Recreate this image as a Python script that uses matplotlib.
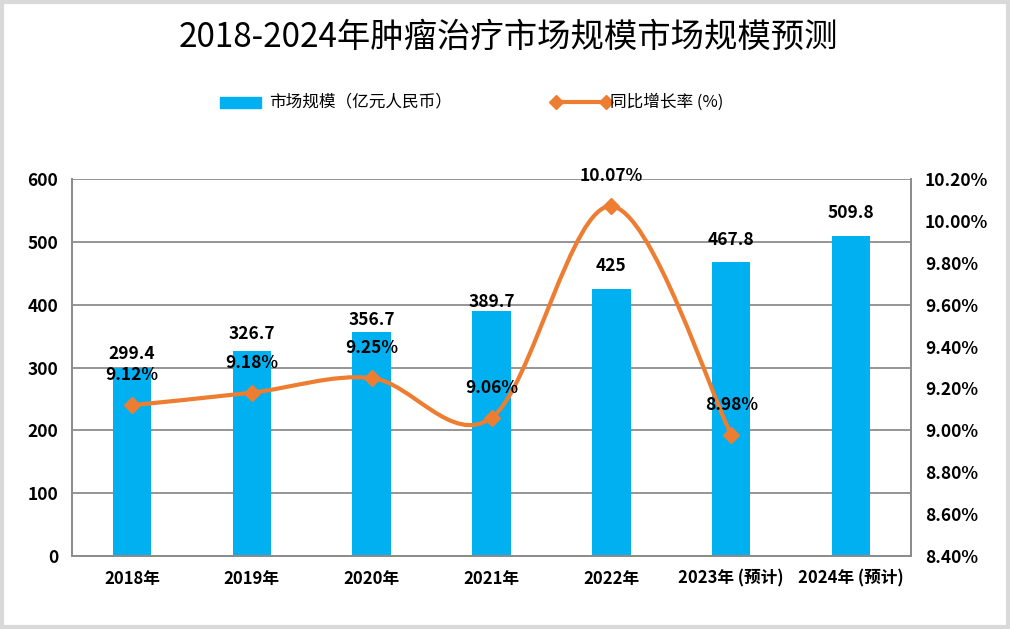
import matplotlib
matplotlib.use('Agg')
import matplotlib.pyplot as plt
from matplotlib.path import Path
from matplotlib.patches import PathPatch, Rectangle
from matplotlib.lines import Line2D
from matplotlib.ticker import FuncFormatter, MultipleLocator

plt.rcParams['font.family'] = ['Noto Sans CJK SC', 'DejaVu Sans']

years = ['2018年', '2019年', '2020年', '2021年', '2022年', '2023年 (预计)', '2024年 (预计)']
market = [299.4, 326.7, 356.7, 389.7, 425, 467.8, 509.8]
growth = [9.12, 9.18, 9.25, 9.06, 10.07, 8.98]   # 2018-2023
growth_labels = ['9.12%', '9.18%', '9.25%', '9.06%', '10.07%', '8.98%']

blue = '#00B0F0'
orange = '#ED7D31'
grid_c = '#8C8C8C'

fig = plt.figure(figsize=(10.1, 6.29), dpi=100)
ax = fig.add_axes([0.0713, 0.116, 0.8307, 0.5994])
ax2 = ax.twinx()

x = list(range(len(years)))
bars = ax.bar(x, market, width=0.32, color=blue, zorder=2)
ax.set_xlim(-0.5, len(years) - 0.5)
ax.set_ylim(0, 600)
ax.yaxis.set_major_locator(MultipleLocator(100))
ax.grid(axis='y', color=grid_c, lw=1.3, zorder=0)
ax.set_axisbelow(True)

# bar value labels (pixel offsets above bar top)
bar_dy = [14, 17, 12, 9, 23, 22, 23]
for xi, v, dy in zip(x, market, bar_dy):
    ax.annotate(f'{v:g}', (xi, v), xytext=(0, dy * 0.72), textcoords='offset points',
                ha='center', va='center', fontsize=12.5, fontweight='bold', zorder=5)

# smoothed growth line (Catmull-Rom -> cubic Bezier)
gx = x[:len(growth)]
pts = list(zip(gx, growth))
verts = [pts[0]]
codes = [Path.MOVETO]
n = len(pts)
for i in range(n - 1):
    p0 = pts[i - 1] if i > 0 else pts[i]
    p1 = pts[i]
    p2 = pts[i + 1]
    p3 = pts[i + 2] if i + 2 < n else pts[i + 1]
    c1 = (p1[0] + (p2[0] - p0[0]) / 6, p1[1] + (p2[1] - p0[1]) / 6)
    c2 = (p2[0] - (p3[0] - p1[0]) / 6, p2[1] - (p3[1] - p1[1]) / 6)
    verts += [c1, c2, p2]
    codes += [Path.CURVE4] * 3
ax2.add_patch(PathPatch(Path(verts, codes), fill=False, edgecolor=orange, lw=3, zorder=3,
                        capstyle='round', joinstyle='round'))
ax2.plot(gx, growth, linestyle='none', marker='D', ms=8, color=orange, zorder=4)
for xi, v, lab in zip(gx, growth, growth_labels):
    ax2.annotate(lab, (xi, v), xytext=(0, 21.5), textcoords='offset points',
                 ha='center', va='center', fontsize=12.5, fontweight='bold', zorder=5)

ax2.set_ylim(8.4, 10.2)
ax2.yaxis.set_major_locator(MultipleLocator(0.2))
ax2.yaxis.set_major_formatter(FuncFormatter(lambda v, p: f'{v:.2f}%'))

ax.set_xticks(x)
ax.set_xticklabels(years)
for a in (ax, ax2):
    for s in a.spines.values():
        s.set_color(grid_c)
        s.set_linewidth(1.3)
    a.spines['top'].set_visible(False)
ax.tick_params(axis='x', length=0, pad=10, labelsize=12)
ax.tick_params(axis='y', length=0, pad=10, labelsize=12.5)
ax2.tick_params(axis='y', length=0, pad=10, labelsize=12.5)
for lab in ax.get_xticklabels() + ax.get_yticklabels() + ax2.get_yticklabels():
    lab.set_fontweight('bold')

# title
fig.text(0.503, 0.94, '2018-2024年肿瘤治疗市场规模市场规模预测', ha='center', va='center',
         fontsize=24, fontweight='medium', color='black')

# legend drawn by hand
ly = 1 - 102 / 629
fig.patches.append(Rectangle((220 / 1010, 1 - 108 / 629), 41 / 1010, 11 / 629,
                             transform=fig.transFigure, color=blue))
fig.text(269 / 1010, ly, '市场规模（亿元人民币）', ha='left', va='center', fontsize=12,
         fontweight='medium')
fig.lines.append(Line2D([556 / 1010, 606 / 1010], [ly, ly], transform=fig.transFigure,
                        color=orange, lw=3, marker='D', ms=7))
fig.text(610 / 1010, ly, '同比增长率 (%)', ha='left', va='center', fontsize=12,
         fontweight='medium')

# outer border
fig.patches.append(Rectangle((0.0015, 0.0025), 0.997, 0.995, transform=fig.transFigure,
                             fill=False, edgecolor='#D9D9D9', lw=3))

fig.savefig('out.png', dpi=100)
